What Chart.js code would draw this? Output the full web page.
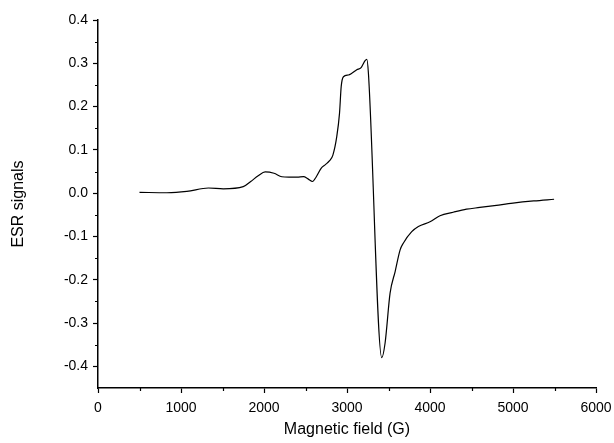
<!DOCTYPE html>
<html>
<head>
<meta charset="utf-8">
<script src="https://cdn.jsdelivr.net/npm/chart.js@4"></script>
<style>
  html, body { margin: 0; padding: 0; background: #fff; }
  #wrap { width: 614px; height: 443px; }
</style>
</head>
<body>
<div id="wrap"><canvas id="esr"></canvas></div>
<script>
// spectrum
var field = [500, 830, 1070, 1330, 1510, 1750, 1840, 1930, 2014, 2120, 2215, 2300, 2400, 2476, 2530, 2585, 2630, 2690, 2740, 2790, 2830, 2877, 2910, 2930, 2957, 3017, 3058, 3118, 3170, 3218, 3239, 3258, 3419, 3459, 3519, 3580, 3640, 3680, 3780, 3860, 4000, 4120, 4280, 4440, 4600, 4800, 5000, 5250, 5495];
var signal = [0.002, 0.001, 0.004, 0.012, 0.010, 0.015, 0.027, 0.040, 0.049, 0.046, 0.038, 0.037, 0.037, 0.038, 0.033, 0.027, 0.038, 0.058, 0.066, 0.075, 0.088, 0.131, 0.185, 0.246, 0.269, 0.273, 0.277, 0.285, 0.290, 0.306, 0.309, 0.277, -0.380, -0.346, -0.231, -0.181, -0.131, -0.115, -0.089, -0.077, -0.066, -0.052, -0.044, -0.037, -0.033, -0.028, -0.023, -0.018, -0.014];

var xTicks = [0, 1000, 2000, 3000, 4000, 5000, 6000];
var xMinor = [500, 1500, 2500, 3500, 4500, 5500];
var yTicks = [-0.4, -0.3, -0.2, -0.1, 0.0, 0.1, 0.2, 0.3, 0.4];
var yMinor = [-0.35, -0.25, -0.15, -0.05, 0.05, 0.15, 0.25, 0.35];

var points = field.map(function (f, i) { return { x: f, y: signal[i] }; });

// little outward ticks between the labelled ones
var minorTicks = {
  id: 'minorTicks',
  afterDraw: function (chart) {
    var c = chart.ctx, xs = chart.scales.x, ys = chart.scales.y;
    c.save();
    c.strokeStyle = '#000';
    c.lineWidth = 1.2;
    c.beginPath();
    xMinor.forEach(function (v) {
      var px = Math.round(xs.getPixelForValue(v)) + 0.5;
      c.moveTo(px, xs.top);
      c.lineTo(px, xs.top + 3);
    });
    yMinor.forEach(function (v) {
      var py = Math.round(ys.getPixelForValue(v)) + 0.5;
      c.moveTo(ys.right, py);
      c.lineTo(ys.right - 3, py);
    });
    c.stroke();
    c.restore();
  }
};

var font = 'Liberation Sans, Arial, sans-serif';

new Chart(document.getElementById('esr'), {
  type: 'line',
  data: {
    datasets: [{
      data: points,
      borderColor: '#000',
      borderWidth: 1.2,
      pointRadius: 0,
      fill: false,
      cubicInterpolationMode: 'monotone'
    }]
  },
  options: {
    responsive: true,
    maintainAspectRatio: false,
    animation: false,
    layout: { padding: { top: 20, right: 18, left: 5, bottom: 0 } },
    plugins: { legend: { display: false }, tooltip: { enabled: false } },
    scales: {
      x: {
        type: 'linear',
        min: 0,
        max: 6000,
        afterBuildTicks: function (s) { s.ticks = xTicks.map(function (v) { return { value: v }; }); },
        afterFit: function (s) { s.height = 55; s.paddingRight = 0; s.paddingLeft = 0; },
        border: { display: true, color: '#000', width: 1.5 },
        grid: { drawOnChartArea: false, drawTicks: true, tickLength: 5, color: '#000', tickWidth: 1.2 },
        ticks: {
          color: '#000',
          padding: 7,
          maxRotation: 0,
          font: { family: font, size: 14 },
          callback: function (v) { return String(v); }
        },
        title: {
          display: true,
          text: 'Magnetic field (G)',
          color: '#000',
          padding: { top: 0 },
          font: { family: font, size: 16 }
        }
      },
      y: {
        type: 'linear',
        min: -0.45,
        max: 0.4,
        afterBuildTicks: function (s) { s.ticks = yTicks.map(function (v) { return { value: v }; }); },
        afterFit: function (s) { s.width = 93; s.paddingTop = 0; s.paddingBottom = 0; },
        border: { display: true, color: '#000', width: 1.5 },
        grid: { drawOnChartArea: false, drawTicks: true, tickLength: 5, color: '#000', tickWidth: 1.2 },
        ticks: {
          color: '#000',
          padding: 5,
          font: { family: font, size: 14 },
          callback: function (v) { return Number(v).toFixed(1); }
        },
        title: {
          display: true,
          text: 'ESR signals',
          color: '#000',
          font: { family: font, size: 16 }
        }
      }
    }
  },
  plugins: [minorTicks]
});
</script>
</body>
</html>
